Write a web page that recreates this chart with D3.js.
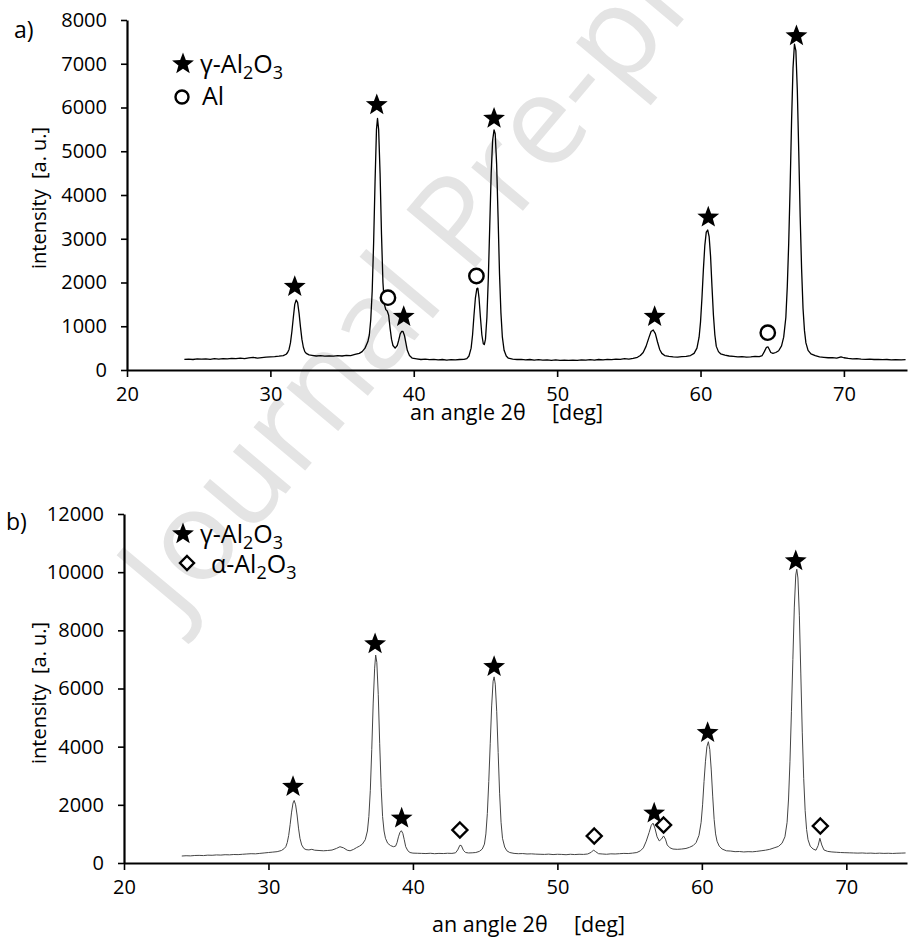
<!DOCTYPE html>
<html><head><meta charset="utf-8">
<script src="https://cdn.jsdelivr.net/npm/d3@7/dist/d3.min.js"></script>
<style>body{margin:0;background:#fff}svg{display:block}text{font-family:"Open Sans",sans-serif}</style>
</head><body>
<script>
// ---------- DATA ----------
const xTicks = [20, 30, 40, 50, 60, 70];
const yTicksA = [0, 1000, 2000, 3000, 4000, 5000, 6000, 7000, 8000];
const yTicksB = [0, 2000, 4000, 6000, 8000, 10000, 12000];

// panel a) pattern: [2θ, intensity]
const patternA = [
[24.0,245],[24.3,250],[24.6,240],[24.9,255],[25.2,248],[25.5,252],[25.8,245],[26.1,258],[26.4,250],[26.7,262],[27.0,255],[27.3,265],[27.6,260],[27.9,270],[28.2,262],[28.5,275],[28.8,290],[29.1,270],[29.4,285],[29.7,295],[30.0,300],[30.3,305],[30.6,315],[30.9,330],[31.1,360],
[31.2,400],[31.3,470],[31.4,620],[31.5,880],[31.6,1200],[31.7,1500],[31.8,1600],[31.9,1540],[32.0,1300],[32.1,980],[32.2,700],[32.3,520],[32.4,420],[32.5,380],[32.7,345],
[32.9,335],[33.2,320],[33.5,330],[33.8,315],[34.1,325],[34.4,318],[34.7,330],[35.0,320],[35.3,335],[35.6,330],[35.9,355],[36.2,380],[36.4,420],[36.6,500],[36.8,650],
[36.9,800],[37.0,1150],[37.1,1800],[37.2,2900],[37.3,4300],[37.4,5500],[37.47,5750],[37.55,5500],[37.65,4500],[37.75,3100],[37.85,2000],[37.95,1500],[38.05,1380],[38.15,1350],[38.25,1250],[38.35,950],[38.45,700],[38.55,560],[38.7,500],[38.85,560],[38.95,680],[39.05,820],[39.15,880],[39.25,880],[39.35,790],[39.45,620],[39.55,450],[39.7,330],[39.9,270],
[40.2,255],[40.5,240],[40.8,250],[41.1,235],[41.4,245],[41.7,230],[42.0,240],[42.3,228],[42.6,238],[42.9,230],[43.2,240],[43.5,245],[43.7,260],[43.85,320],[44.0,500],[44.1,800],[44.2,1250],[44.3,1650],[44.4,1860],[44.47,1870],[44.55,1650],[44.65,1200],[44.75,800],[44.85,600],[44.92,580],[45.0,700],[45.1,1200],[45.2,2100],[45.3,3300],[45.4,4500],[45.5,5250],[45.6,5490],[45.68,5400],[45.78,4700],[45.88,3500],[45.98,2200],[46.08,1300],[46.18,750],[46.3,450],[46.45,320],[46.6,270],
[46.9,250],[47.2,240],[47.5,245],[47.8,232],[48.1,240],[48.4,228],[48.7,235],[49.0,225],[49.3,232],[49.6,220],[49.9,230],[50.2,222],[50.5,228],[50.8,218],[51.1,226],[51.4,220],[51.7,232],[52.0,225],[52.3,235],[52.6,228],[52.9,240],[53.2,232],[53.5,245],[53.8,238],[54.1,250],[54.4,245],[54.7,258],[55.0,250],[55.3,265],[55.6,290],[55.8,330],
[56.0,400],[56.2,540],[56.4,740],[56.55,880],[56.7,915],[56.85,830],[57.0,640],[57.15,470],[57.3,380],[57.5,330],[57.8,310],[58.1,300],[58.4,295],[58.7,305],[59.0,310],[59.3,330],[59.55,380],[59.75,500],[59.9,750],
[60.0,1100],[60.1,1650],[60.2,2300],[60.3,2850],[60.4,3150],[60.5,3200],[60.6,3050],[60.7,2600],[60.8,1900],[60.9,1250],[61.0,800],[61.1,540],[61.25,420],[61.4,370],[61.7,340],[62.0,320],[62.3,310],[62.6,300],[62.9,305],[63.2,295],[63.5,300],[63.8,310],[64.1,305],[64.3,330],[64.45,420],[64.6,520],[64.7,530],[64.8,470],[64.9,400],[65.05,380],[65.25,400],[65.45,440],[65.65,550],[65.8,750],
[65.95,1200],[66.05,1900],[66.15,2900],[66.25,4200],[66.35,5700],[66.45,6900],[66.55,7450],[66.65,7300],[66.75,6400],[66.85,5000],[66.95,3500],[67.05,2300],[67.15,1400],[67.25,900],[67.35,620],[67.5,450],[67.7,370],[68.0,330],[68.3,300],[68.6,290],[68.9,280],[69.2,285],[69.5,270],[69.8,300],[70.0,280],[70.3,265],[70.6,255],[70.9,260],[71.2,250],[71.5,245],[71.8,250],[72.1,240],[72.4,245],[72.7,235],[73.0,240],[73.3,232],[73.6,238],[74.0,230],[74.3,235]
];

// panel b) pattern: [2θ, intensity]
const patternB = [
[24.0,240],[24.3,250],[24.6,245],[24.9,258],[25.2,262],[25.5,255],[25.8,270],[26.1,265],[26.4,278],[26.7,272],[27.0,285],[27.3,280],[27.6,292],[27.9,288],[28.2,300],[28.5,310],[28.8,320],[29.1,315],[29.4,330],[29.7,345],[30.0,360],[30.3,375],[30.6,390],[30.9,430],[31.1,500],
[31.2,560],[31.3,700],[31.4,950],[31.5,1320],[31.6,1750],[31.7,2060],[31.78,2150],[31.88,2000],[31.98,1650],[32.08,1200],[32.18,850],[32.3,620],[32.45,500],[32.6,460],[32.8,450],[33.0,470],[33.2,440],[33.5,430],[33.8,420],[34.1,430],[34.4,445],[34.7,500],[34.95,560],[35.2,520],[35.45,440],[35.65,420],[35.9,470],[36.1,530],[36.3,580],[36.5,650],[36.7,800],
[36.85,1100],[36.95,1600],[37.05,2500],[37.15,3900],[37.25,5500],[37.35,6700],[37.42,7150],[37.5,6900],[37.6,5800],[37.7,4100],[37.8,2600],[37.9,1600],[38.0,1100],[38.1,850],[38.25,680],[38.45,600],[38.65,560],[38.8,580],[38.9,700],[39.0,900],[39.1,1050],[39.2,1110],[39.3,1020],[39.4,800],[39.5,560],[39.65,420],[39.8,360],
[40.0,340],[40.3,335],[40.6,330],[40.9,325],[41.2,335],[41.5,320],[41.8,330],[42.1,325],[42.4,335],[42.7,330],[42.95,350],[43.1,450],[43.25,610],[43.35,600],[43.5,430],[43.65,360],[43.85,345],[44.1,350],[44.35,360],[44.6,400],[44.8,480],
[44.95,650],[45.05,1000],[45.15,1700],[45.25,2800],[45.35,4100],[45.45,5400],[45.55,6250],[45.62,6400],[45.7,6150],[45.8,5200],[45.9,3800],[46.0,2400],[46.1,1400],[46.2,850],[46.35,550],[46.5,420],[46.7,360],
[47.0,330],[47.3,320],[47.6,325],[47.9,310],[48.2,315],[48.5,305],[48.8,300],[49.1,295],[49.4,305],[49.7,290],[50.0,300],[50.3,295],[50.6,285],[50.9,300],[51.2,290],[51.5,300],[51.8,295],[52.1,310],[52.35,370],[52.5,445],[52.65,390],[52.85,320],[53.1,310],[53.4,300],[53.7,315],[54.0,310],[54.3,320],[54.6,330],[54.9,325],[55.2,340],[55.5,360],
[55.75,420],[55.95,520],[56.15,750],[56.35,1050],[56.5,1300],[56.62,1370],[56.75,1200],[56.9,900],[57.05,760],[57.2,820],[57.35,930],[57.48,820],[57.6,620],[57.8,520],[58.0,480],[58.3,470],[58.6,480],[58.9,500],[59.15,540],[59.4,600],[59.6,700],
[59.8,950],[59.95,1400],[60.05,2000],[60.15,2800],[60.25,3500],[60.35,4000],[60.45,4170],[60.55,3900],[60.65,3200],[60.75,2300],[60.85,1500],[60.95,1000],[61.05,750],[61.2,580],[61.4,480],[61.7,420],[62.0,410],[62.3,390],[62.6,395],[62.9,380],[63.2,390],[63.5,385],[63.8,400],[64.1,420],[64.4,440],[64.7,470],[65.0,520],[65.3,570],[65.55,680],[65.75,900],
[65.9,1400],[66.0,2200],[66.1,3500],[66.2,5200],[66.3,7000],[66.4,8800],[66.5,9900],[66.57,10100],[66.65,9800],[66.75,8500],[66.85,6500],[66.95,4500],[67.05,2900],[67.15,1800],[67.25,1150],[67.35,800],[67.5,580],[67.7,480],[67.9,440],[68.05,600],[68.17,850],[68.3,620],[68.45,450],[68.7,400],
[69.0,380],[69.3,370],[69.6,360],[69.9,355],[70.2,350],[70.5,345],[70.8,340],[71.1,345],[71.4,335],[71.7,340],[72.0,330],[72.3,338],[72.6,330],[72.9,335],[73.2,328],[73.5,335],[73.8,340],[74.1,345]
];

// phase markers [2θ, intensity]
const starsA = [[31.7,1905],[37.42,6060],[39.3,1220],[45.6,5750],[56.8,1219],[60.54,3490],[66.69,7634]];
const circlesA = [[38.2,1653],[44.37,2149],[64.69,853]];
const starsB = [[31.7,2625],[37.38,7530],[39.22,1537],[45.62,6750],[56.7,1709],[60.4,4480],[66.5,10385]];
const diamondsB = [[43.25,1135],[52.55,928],[57.35,1307],[68.2,1272]];

// ---------- DRAW ----------
const W = 908, H = 939;
const svg = d3.select("body").append("svg").attr("width", W).attr("height", H);

// watermark
svg.append("text").text("Journal Pre-proof")
  .attr("transform", "translate(178,622) rotate(-50)")
  .attr("font-size", 126).attr("fill", "#e4e4e4");

function starPath(R) {
  const pts = [];
  for (let i = 0; i < 10; i++) {
    const r = i % 2 === 0 ? R : R * 0.42;
    const a = -Math.PI / 2 + i * Math.PI / 5;
    pts.push([r * Math.cos(a), r * Math.sin(a)]);
  }
  return "M" + pts.map(p => p.join(",")).join("L") + "Z";
}
const STAR = starPath(11.5);

function formula(sel, prefix) {
  sel.append("tspan").text(prefix + "-Al");
  sel.append("tspan").text("2").attr("font-size", 18).attr("dy", 6);
  sel.append("tspan").text("O").attr("dy", -6);
  sel.append("tspan").text("3").attr("font-size", 18).attr("dy", 6);
}

function panel(cfg) {
  const g = svg.append("g");
  const x = d3.scaleLinear().domain(cfg.xDomain).range([cfg.x0, cfg.x1]);
  const y = d3.scaleLinear().domain(cfg.yDomain).range([cfg.y0, cfg.y1]);

  g.append("path").datum(cfg.data)
    .attr("d", d3.line().x(d => x(d[0])).y(d => y(d[1])))
    .attr("fill", "none").attr("stroke", cfg.lineColor).attr("stroke-width", cfg.lineWidth)
    .attr("stroke-linejoin", "round");

  const ya = g.append("g").attr("transform", `translate(${cfg.x0},0)`)
    .call(d3.axisLeft(y).tickValues(cfg.yTicks).tickFormat(d3.format("d")).tickSize(6).tickSizeOuter(0).tickPadding(14));
  const xa = g.append("g").attr("transform", `translate(0,${cfg.y0})`)
    .call(d3.axisBottom(x).tickValues(xTicks).tickFormat(d3.format("d")).tickSize(7).tickSizeOuter(0).tickPadding(10));
  [ya, xa].forEach(a => {
    a.select(".domain").attr("stroke", "#000").attr("stroke-width", 2.2);
    a.selectAll(".tick line").attr("stroke", "#000").attr("stroke-width", 1.6);
    a.selectAll(".tick text").attr("font-size", 20).attr("font-family", "Open Sans").attr("fill", "#000");
  });

  cfg.stars.forEach(d => g.append("path").attr("d", STAR)
    .attr("transform", `translate(${x(d[0])},${y(d[1])})`).attr("fill", "#000"));
  (cfg.circles || []).forEach(d => g.append("circle")
    .attr("cx", x(d[0])).attr("cy", y(d[1])).attr("r", 7.2)
    .attr("fill", "#fff").attr("stroke", "#000").attr("stroke-width", 2.4));
  (cfg.diamonds || []).forEach(d => g.append("path").attr("d", "M0,-7.5L7.5,0L0,7.5L-7.5,0Z")
    .attr("transform", `translate(${x(d[0])},${y(d[1])})`)
    .attr("fill", "#fff").attr("stroke", "#000").attr("stroke-width", 2.4));

  g.append("text").text(cfg.tag).attr("x", cfg.tagX).attr("y", cfg.tagY).attr("font-size", 23);
  const xl = g.append("text").attr("y", cfg.xLabY).attr("font-size", 21.5);
  xl.append("tspan").attr("x", cfg.xLab1).text("an angle 2θ");
  xl.append("tspan").attr("x", cfg.xLab2).text("[deg]");
  const yl = g.append("text").attr("transform", `translate(${cfg.yLabX},${cfg.yLabY}) rotate(-90)`)
    .attr("font-size", 20);
  yl.append("tspan").attr("x", -72).text("intensity");
  yl.append("tspan").attr("x", 18).text("[a. u.]");
  return g;
}

const gA = panel({
  data: patternA, xDomain: [20, 74.4], yDomain: [0, 8000], x0: 127, x1: 907, y0: 370, y1: 20,
  yTicks: yTicksA, stars: starsA, circles: circlesA, lineColor: "#000", lineWidth: 1.3,
  tag: "a)", tagX: 14, tagY: 38, xLabY: 420, xLab1: 410, xLab2: 552, yLabX: 46, yLabY: 197
});
const gB = panel({
  data: patternB, xDomain: [20, 74.2], yDomain: [0, 12000], x0: 124, x1: 907, y0: 863, y1: 514,
  yTicks: yTicksB, stars: starsB, diamonds: diamondsB, lineColor: "#444", lineWidth: 1,
  tag: "b)", tagX: 6, tagY: 530, xLabY: 932, xLab1: 432, xLab2: 574, yLabX: 46, yLabY: 692
});

// legends
gA.append("path").attr("d", STAR).attr("transform", "translate(183,64)").attr("fill", "#000");
formula(gA.append("text").attr("x", 200).attr("y", 73).attr("font-size", 25), "γ");
gA.append("circle").attr("cx", 182).attr("cy", 97).attr("r", 6.5).attr("fill", "#fff").attr("stroke", "#000").attr("stroke-width", 2.4);
gA.append("text").text("Al").attr("x", 202).attr("y", 105).attr("font-size", 25);

gB.append("path").attr("d", STAR).attr("transform", "translate(183,534)").attr("fill", "#000");
formula(gB.append("text").attr("x", 200).attr("y", 543).attr("font-size", 25), "γ");
gB.append("path").attr("d", "M0,-7L7,0L0,7L-7,0Z").attr("transform", "translate(187,563)")
  .attr("fill", "#fff").attr("stroke", "#000").attr("stroke-width", 2.4);
formula(gB.append("text").attr("x", 211).attr("y", 573).attr("font-size", 25), "α");
</script>
</body></html>
